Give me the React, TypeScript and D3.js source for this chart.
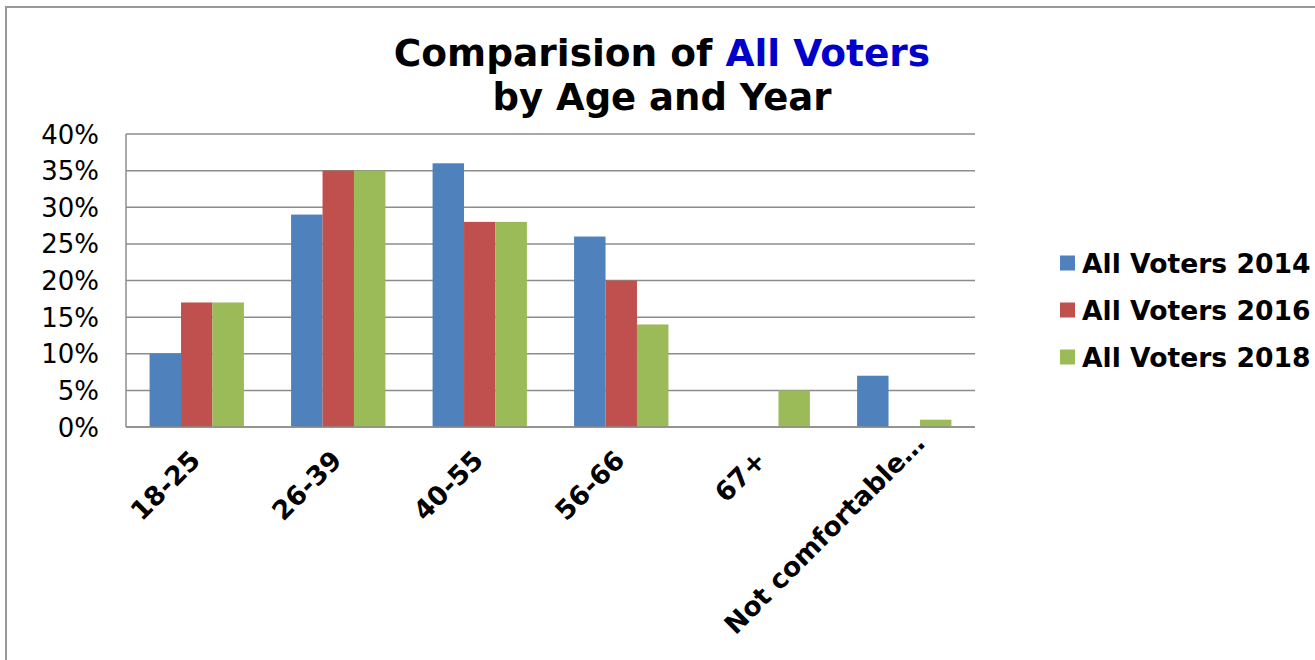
import React from "react";
import * as d3 from "d3";

// Age groups and survey share per year (fractions of all voters)
const categories = ["18-25", "26-39", "40-55", "56-66", "67+", "Not comfortable…"];
const seriesNames = ["All Voters 2014", "All Voters 2016", "All Voters 2018"];
const voters2014 = [0.10, 0.29, 0.36, 0.26, 0.0, 0.07];
const voters2016 = [0.17, 0.35, 0.28, 0.20, 0.0, 0.0];
const voters2018 = [0.17, 0.35, 0.28, 0.14, 0.05, 0.01];
const yTicks = [0, 0.05, 0.1, 0.15, 0.2, 0.25, 0.3, 0.35, 0.4];
const colors = ["#4F81BD", "#C0504D", "#9BBB59"];

const W = 1315;
const H = 660;
const FONT = "'DejaVu Sans', Verdana, sans-serif";

export default function App() {
  const seriesValues = [voters2014, voters2016, voters2018];
  const plot = { left: 126, right: 975, top: 134, bottom: 427 };

  const x = d3
    .scaleBand<string>()
    .domain(categories)
    .range([plot.left, plot.right])
    .paddingInner(1 / 3)
    .paddingOuter(1 / 6);

  const xSub = d3
    .scaleBand<string>()
    .domain(seriesNames)
    .range([0, x.bandwidth()])
    .padding(0);

  const y = d3.scaleLinear().domain([0, 0.4]).range([plot.bottom, plot.top]);
  const fmt = d3.format(".0%");

  const gridColor = "#8c8c8c";

  return (
    <svg
      width={W}
      height={H}
      style={{ position: "absolute", left: 0, top: 0, background: "#fff" }}
    >
      {/* chart frame */}
      <rect x={6} y={7} width={W + 20} height={H + 20} fill="#fff" stroke="#999" strokeWidth={2} />

      {/* title */}
      <text
        x={662}
        y={66}
        textAnchor="middle"
        fontFamily={FONT}
        fontWeight="bold"
        fontSize={37.5}
        fill="#000"
      >
        Comparision of <tspan fill="#0000CC">All Voters</tspan>
      </text>
      <text
        x={662}
        y={110}
        textAnchor="middle"
        fontFamily={FONT}
        fontWeight="bold"
        fontSize={37}
        fill="#000"
      >
        by Age and Year
      </text>

      {/* gridlines and y labels */}
      {yTicks.map((t) => (
        <g key={t}>
          <line
            x1={plot.left}
            x2={plot.right}
            y1={y(t)}
            y2={y(t)}
            stroke={gridColor}
            strokeWidth={1.5}
          />
          <text
            x={99}
            y={y(t) + 9.5}
            textAnchor="end"
            fontFamily={FONT}
            fontSize={26}
            fill="#000"
          >
            {fmt(t)}
          </text>
        </g>
      ))}
      <line
        x1={plot.left}
        x2={plot.left}
        y1={plot.top}
        y2={plot.bottom}
        stroke={gridColor}
        strokeWidth={1.5}
      />

      {/* bars */}
      {categories.map((c, ci) => (
        <g key={c} transform={`translate(${x(c)},0)`}>
          {seriesNames.map((s, si) => {
            const v = seriesValues[si][ci];
            return (
              <rect
                key={s}
                x={xSub(s)}
                y={y(v)}
                width={xSub.bandwidth()}
                height={y(0) - y(v)}
                fill={colors[si]}
              />
            );
          })}
        </g>
      ))}

      {/* x axis line */}
      <line
        x1={plot.left}
        x2={plot.right}
        y1={plot.bottom}
        y2={plot.bottom}
        stroke={gridColor}
        strokeWidth={1.5}
      />

      {/* category labels */}
      {categories.map((c) => {
        const cx = (x(c) as number) + x.bandwidth() / 2 + 5;
        const cy = plot.bottom + 35;
        const shift = c.endsWith("…") ? 24 : 0;
        return (
          <text
            key={c}
            transform={`translate(${cx},${cy}) rotate(-45)`}
            dx={shift}
            textAnchor="end"
            fontFamily={FONT}
            fontWeight="bold"
            fontSize={26.5}
            fill="#000"
          >
            {c}
          </text>
        );
      })}

      {/* legend */}
      {seriesNames.map((s, si) => {
        const ly = 263 + si * 47;
        return (
          <g key={s}>
            <rect x={1060} y={ly - 7.5} width={15} height={15} fill={colors[si]} />
            <text
              x={1082}
              y={ly + 9.5}
              fontFamily={FONT}
              fontWeight="bold"
              fontSize={26.6}
              fill="#000"
            >
              {s}
            </text>
          </g>
        );
      })}
    </svg>
  );
}
